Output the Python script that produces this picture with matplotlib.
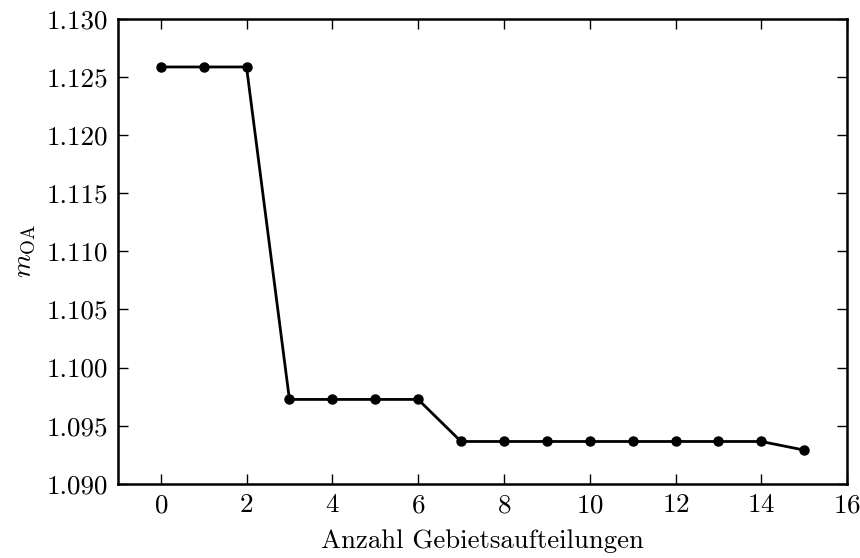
import matplotlib
matplotlib.use("Agg")
import matplotlib.pyplot as plt
from matplotlib.ticker import FormatStrFormatter, MultipleLocator

x_vals = list(range(16))
m_oa = [1.12587, 1.12587, 1.12587,
        1.09726, 1.09726, 1.09726, 1.09726,
        1.09364, 1.09364, 1.09364, 1.09364, 1.09364, 1.09364, 1.09364, 1.09364,
        1.0929]

plt.rcParams['font.family'] = ['cmr10', 'DejaVu Serif']
plt.rcParams['mathtext.fontset'] = 'cm'
plt.rcParams['axes.formatter.use_mathtext'] = True

fig = plt.figure(figsize=(8.6, 5.58), dpi=100)
ax = fig.add_axes([0.137, 0.133, 0.848, 0.833])
ax.plot(x_vals, m_oa, color='black', lw=2.0, marker='o', ms=6.5)
ax.set_xlim(-1, 16)
ax.set_ylim(1.090, 1.130)
ax.xaxis.set_major_locator(MultipleLocator(2))
ax.yaxis.set_major_locator(MultipleLocator(0.005))
ax.yaxis.set_major_formatter(FormatStrFormatter('%.3f'))
ax.tick_params(direction='in', top=True, right=True, length=7, width=1,
               labelsize=19.5, pad=7)
for s in ax.spines.values():
    s.set_linewidth(1.8)
ax.set_xlabel('Anzahl Gebietsaufteilungen', fontsize=19.3, labelpad=9)
ax.set_ylabel(r'$m_{\rm OA}$', fontsize=19.5, labelpad=7)
fig.savefig('out.png', dpi=100)
